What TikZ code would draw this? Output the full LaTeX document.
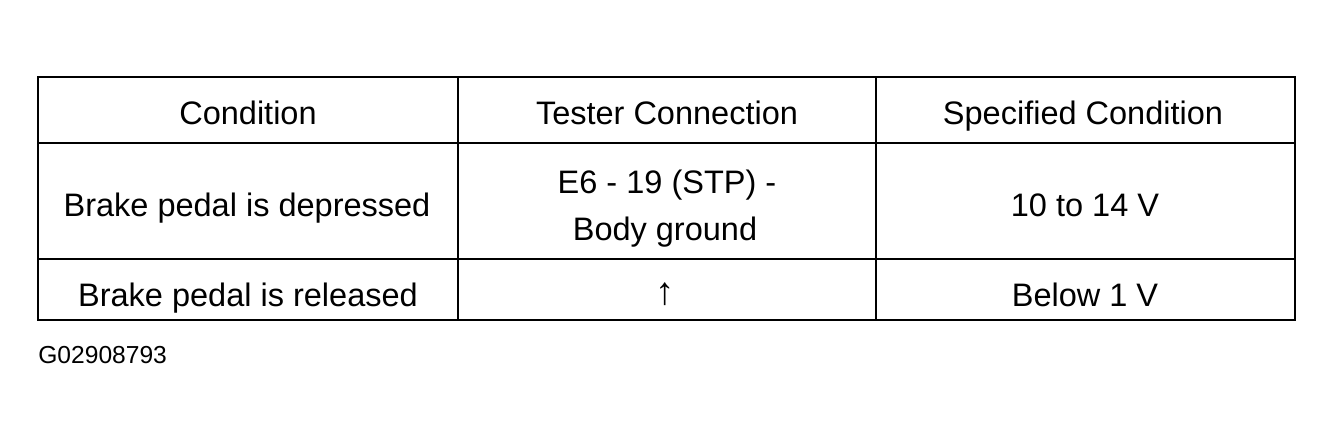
\documentclass[tikz,border=0pt]{standalone}
\usepackage{fontspec}
\setmainfont{Liberation Sans}
\newfontfamily\symf{DejaVu Sans}
\begin{document}
\begin{tikzpicture}[x=0.02cm,y=-0.02cm,
  grid/.style={line width=1.4pt},
  cell/.style={font=\fontsize{18.5}{26}\selectfont,anchor=base,inner sep=0pt}]
\useasboundingbox (0,0) rectangle (1333,441);
\draw[grid] (38,77) rectangle (1295,320);
\draw[grid] (38,143) -- (1295,143);
\draw[grid] (38,259) -- (1295,259);
\draw[grid] (458,77) -- (458,320);
\draw[grid] (876,77) -- (876,320);
\node[cell] (h1) at (248,124) {Condition};
\node[cell] (h2) at (667,124) {Tester Connection};
\node[cell] (h3) at (1083,124) {Specified Condition};
\node[cell] (a1) at (247,216) {Brake pedal is depressed};
\node[cell] (a2) at (667,193) {E6 - 19 (STP) -};
\node[cell] (a2b) at (665,240) {Body ground};
\node[cell] (a3) at (1085,216) {10 to 14 V};
\node[cell] (b1) at (248,306) {Brake pedal is released};
\node[cell,font=\fontsize{22}{26}\selectfont] (b2) at (665,304) {↑};
\node[cell] (b3) at (1085,306) {Below 1 V};
\node[font=\fontsize{14}{16}\selectfont,anchor=base west,inner sep=0pt] (id) at (38,363) {G02908793};
\end{tikzpicture}
\end{document}
